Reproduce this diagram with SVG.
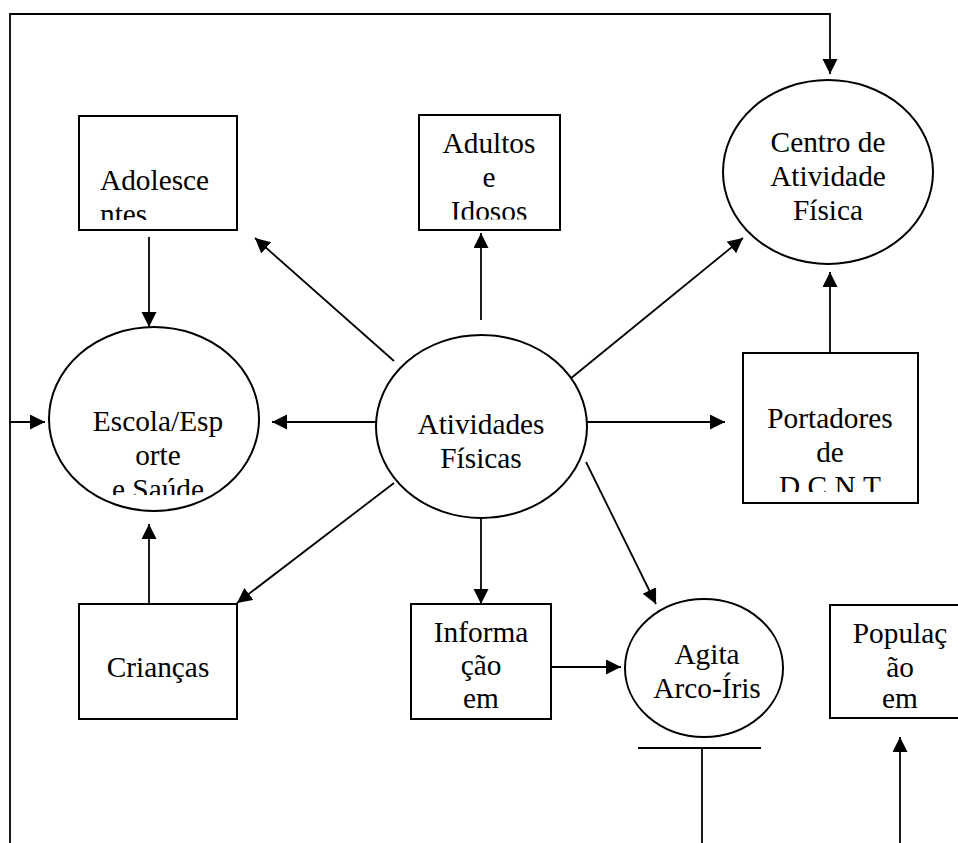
<svg xmlns="http://www.w3.org/2000/svg" width="958" height="843" viewBox="0 0 958 843">
<style>
.box{fill:#fff;stroke:#000;stroke-width:2}
.ell{fill:#fff;stroke:#000;stroke-width:2}
.ln{fill:none;stroke:#000;stroke-width:1.8}
.t{font-family:"Liberation Serif","Times New Roman",serif;font-size:29.33px;fill:#000;text-anchor:middle}
.ts{font-family:"Liberation Serif","Times New Roman",serif;font-size:29.33px;fill:#000}
</style>
<defs>
<marker id="ah" markerUnits="userSpaceOnUse" markerWidth="16" markerHeight="16" refX="15" refY="7.5" orient="auto">
<path d="M0,0 L15,7.5 L0,15 Z" fill="#000"/>
</marker>
<clipPath id="cAdol"><rect x="79" y="116" width="158" height="104"/></clipPath>
<clipPath id="cAdul"><rect x="419" y="115" width="141" height="104.5"/></clipPath>
<clipPath id="cEsc"><rect x="49" y="327" width="210" height="168"/></clipPath>
<clipPath id="cPort"><rect x="743" y="353" width="175" height="139"/></clipPath>
</defs>
<rect width="958" height="843" fill="#fff"/>

<g id="connectors">
<path class="ln" d="M10,843 L10,14 L830,14 L830,74" marker-end="url(#ah)"/>
<line class="ln" x1="10" y1="422" x2="45" y2="422" marker-end="url(#ah)"/>
<line class="ln" x1="149" y1="237" x2="149" y2="327" marker-end="url(#ah)"/>
<line class="ln" x1="149" y1="604" x2="149" y2="524" marker-end="url(#ah)"/>
<line class="ln" x1="376" y1="422" x2="272" y2="422" marker-end="url(#ah)"/>
<line class="ln" x1="394" y1="361" x2="255" y2="238" marker-end="url(#ah)"/>
<line class="ln" x1="394" y1="483" x2="237" y2="603" marker-end="url(#ah)"/>
<line class="ln" x1="481" y1="320" x2="481" y2="233" marker-end="url(#ah)"/>
<line class="ln" x1="570" y1="379" x2="743" y2="238" marker-end="url(#ah)"/>
<line class="ln" x1="586" y1="422" x2="725" y2="422" marker-end="url(#ah)"/>
<line class="ln" x1="830" y1="353" x2="830" y2="272" marker-end="url(#ah)"/>
<line class="ln" x1="586" y1="462" x2="656" y2="604" marker-end="url(#ah)"/>
<line class="ln" x1="481" y1="518" x2="481" y2="604" marker-end="url(#ah)"/>
<line class="ln" x1="551" y1="667" x2="621" y2="667" marker-end="url(#ah)"/>
<line class="ln" x1="638" y1="748" x2="761" y2="748"/>
<line class="ln" x1="702" y1="748" x2="702" y2="843"/>
<line class="ln" x1="900" y1="843" x2="900" y2="737" marker-end="url(#ah)"/>
</g>

<g id="adolescentes">
<rect class="box" x="79" y="116" width="158" height="114"/>
<g clip-path="url(#cAdol)">
<text class="ts" x="100" y="190">Adolesce</text>
<text class="ts" x="100" y="223.5">ntes</text>
</g>
</g>

<g id="adultos">
<rect class="box" x="419" y="115" width="141" height="115"/>
<g clip-path="url(#cAdul)">
<text class="t" x="489" y="153.3">Adultos</text>
<text class="t" x="489" y="187.3">e</text>
<text class="t" x="489" y="221">Idosos</text>
</g>
</g>

<g id="centro">
<ellipse class="ell" cx="828" cy="172" rx="105" ry="92"/>
<text class="t" x="828" y="152">Centro de</text>
<text class="t" x="828" y="185.5">Atividade</text>
<text class="t" x="828" y="219.5">Física</text>
</g>

<g id="escola">
<ellipse class="ell" cx="154" cy="419" rx="105" ry="92"/>
<g clip-path="url(#cEsc)">
<text class="t" x="158" y="431">Escola/Esp</text>
<text class="t" x="158" y="465">orte</text>
<text class="t" x="158" y="499">e Saúde</text>
</g>
</g>

<g id="atividades">
<ellipse class="ell" cx="481.5" cy="426.5" rx="105.5" ry="91.5"/>
<text class="t" x="481" y="434">Atividades</text>
<text class="t" x="481" y="468">Físicas</text>
</g>

<g id="portadores">
<rect class="box" x="743" y="353" width="175" height="150"/>
<g clip-path="url(#cPort)">
<text class="t" x="830" y="428">Portadores</text>
<text class="t" x="830" y="462">de</text>
<text class="t" x="830" y="496">D.C.N.T</text>
</g>
</g>

<g id="criancas">
<rect class="box" x="79" y="604" width="158" height="115"/>
<text class="t" x="158" y="677">Crianças</text>
</g>

<g id="informacao">
<rect class="box" x="411" y="604" width="140" height="115"/>
<text class="t" x="481" y="642">Informa</text>
<text class="t" x="481" y="675">ção</text>
<text class="t" x="481" y="707.5">em</text>
</g>

<g id="agita">
<ellipse class="ell" cx="704" cy="668" rx="79" ry="69"/>
<text class="t" x="707" y="663.5">Agita</text>
<text class="t" x="707" y="697.5">Arco-Íris</text>
</g>

<g id="populacao">
<rect class="box" x="830" y="605" width="140" height="113"/>
<text class="t" x="900" y="643">Populaç</text>
<text class="t" x="900" y="677">ão</text>
<text class="t" x="900" y="708">em</text>
</g>
</svg>
